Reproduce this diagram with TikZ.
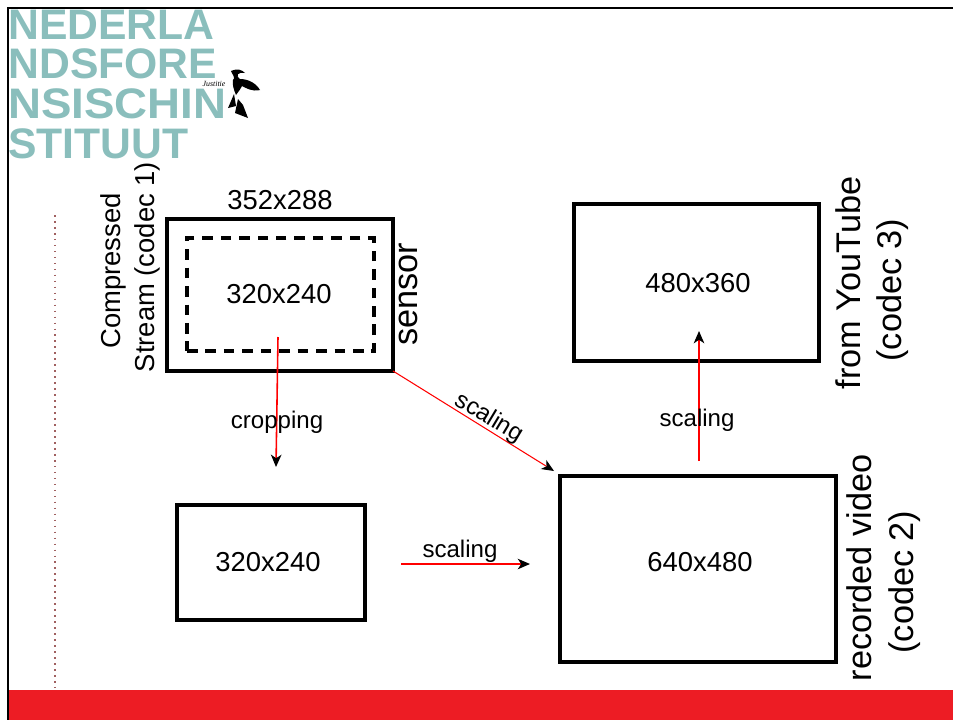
\documentclass[tikz,border=0pt]{standalone}
\usepackage{fontspec}
\setmainfont{Liberation Sans}
\newfontfamily\seriffont{Liberation Serif}
\usepackage{xcolor}
\usetikzlibrary{positioning, arrows.meta, calc}
\definecolor{logoteal}{HTML}{8ABEBC}
\definecolor{bandred}{HTML}{ED1C24}
\definecolor{dotred}{HTML}{A06060}

\begin{document}
\begin{tikzpicture}[
    x=0.02cm, y=-0.02cm,
    >=Stealth,
    logotext/.style={anchor=base west, inner sep=0pt, text=logoteal,
                 font=\fontsize{24.3}{26}\selectfont\bfseries},
    thickbox/.style={draw=black, line width=2.4pt, inner sep=0pt, outer sep=0pt, anchor=north west},
    sizelabel/.style={inner sep=0pt, font=\fontsize{15.6}{18}\selectfont},
    sidelabel/.style={inner sep=0pt, rotate=90, font=\fontsize{19.5}{22}\selectfont},
    steplabel/.style={inner sep=0pt, font=\fontsize{13.7}{16}\selectfont},
    redarrow/.style={draw=red, line width=0.9pt, -{Stealth[black, length=7pt, width=6pt, inset=2pt]}},
]
  \useasboundingbox (0,0) rectangle (953,720);
  % Logo
  \node[logotext] (logoa) at (8,39) {NEDERLA};
  \node[logotext] (logob) at (8,78) {NDSFORE};
  \node[logotext, xscale=1.07] (logoc) at (8,118) {NSISCHIN};
  \node[logotext] (logod) at (8,158) {STITUUT};
  \node[inner sep=0pt, font=\fontsize{4.5}{5}\selectfont\seriffont\itshape] (justitie) at (214,84) {Justitie};
  \fill[black] (231,71) .. controls (238,68) and (242,70) .. (245,73)
     .. controls (238,72) and (235,75) .. (240,79)
     .. controls (248,79) and (256,83) .. (260,90)
     .. controls (252,92) and (246,88) .. (242,86)
     .. controls (240,90) and (238,92) .. (236,95)
     .. controls (234,90) and (232,85) .. (233,80)
     .. controls (236,78) and (232,74) .. (231,71) -- cycle;
  \fill[black] (234,94) -- (228,108) -- (236,106) -- cycle;
  \fill[black] (238,99) -- (235,113) -- (248,118) -- (243,105) -- cycle;
  % Frame and band
  \fill[bandred] (8,690) rectangle (953,720);
  \draw[line width=1.7pt] (953,8) -- (8,8) -- (8,720);
  % Dotted margin
  \coordinate (dottop) at (55,215);
  \coordinate (dotbot) at (55,688);
  \draw[dotred, line width=0.7pt, dash pattern=on 0.9pt off 2.5pt] (dottop) -- (dotbot);
  % Sensor
  \node[thickbox, minimum width=4.52cm, minimum height=3.04cm] (sensor) at (167,219) {};
  \node[thickbox, dash pattern=on 6pt off 4.5pt, minimum width=3.74cm, minimum height=2.26cm] (crop) at (187,238) {};
  \node[sizelabel] (sensortop) at (280,200) {352x288};
  \node[sizelabel] (croplabel) at (279,294) {320x240};
  \node[sizelabel, rotate=90] (comp) at (113,271) {Compressed};
  \node[sizelabel, rotate=90] (stream) at (147,267) {Stream (codec 1)};
  \node[sidelabel] (sensorside) at (408,294) {sensor};
  % YouTube
  \node[thickbox, minimum width=4.9cm, minimum height=3.14cm] (yt) at (574,204) {};
  \node[sizelabel] (ytlabel) at (698,283) {480x360};
  \node[sidelabel] (ytside) at (848,283) {from YouTube};
  \node[sidelabel] (ytcodec) at (893,290) {(codec 3)};
  % Cropped
  \node[thickbox, line width=2pt, minimum width=3.76cm, minimum height=2.3cm] (small) at (177,505) {};
  \node[sizelabel] (smalllabel) at (268,562) {320x240};
  % Recorded
  \node[thickbox, minimum width=5.52cm, minimum height=3.72cm] (rec) at (560,476) {};
  \node[sizelabel] (reclabel) at (700,562) {640x480};
  \node[sidelabel] (recside) at (859,568) {recorded video};
  \node[sidelabel] (reccodec) at (905,582) {(codec 2)};
  % Arrows
  \coordinate (cropfrom) at (278,337);
  \coordinate (cropto) at (276,467);
  \coordinate (diagto) at (554,471);
  \coordinate (horfrom) at (401,564);
  \coordinate (horto) at (530,564);
  \coordinate (upfrom) at (699,461);
  \coordinate (upto) at (699,331);
  \draw[redarrow] (cropfrom) -- (cropto);
  \draw[redarrow, line width=0.6pt] (sensor.south east) -- (diagto);
  \draw[redarrow] (horfrom) -- (horto);
  \draw[redarrow] (upfrom) -- (upto);
  % Arrow labels
  \node[steplabel] (croptext) at (277,422) {cropping};
  \node[steplabel, rotate=-31] (diagtext) at (489,418) {scaling};
  \node[steplabel] (hortext) at (460,551) {scaling};
  \node[steplabel] (uptext) at (697,420) {scaling};
\end{tikzpicture}
\end{document}
